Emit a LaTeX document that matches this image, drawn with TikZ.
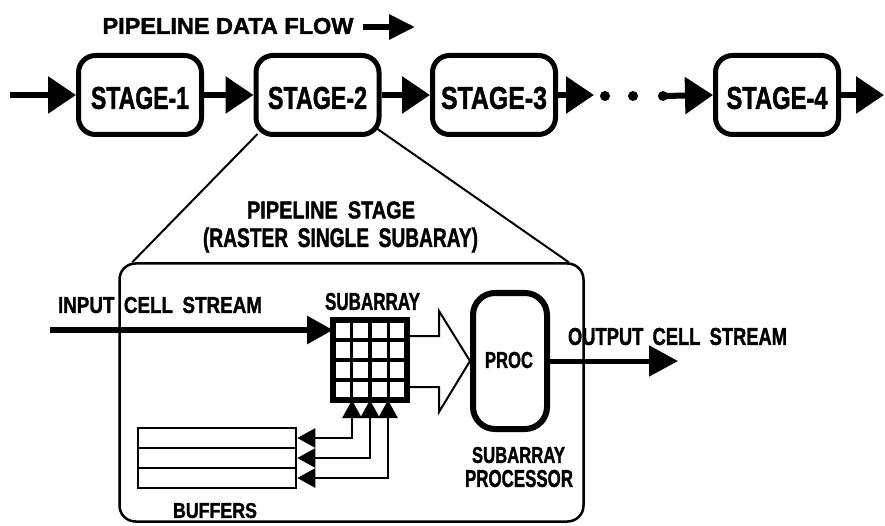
\documentclass[tikz,border=0pt]{standalone}
\usepackage{fontspec}
\setmainfont{Liberation Sans}[BoldFeatures={FakeBold=1.6}]
\usepackage{graphicx}
\usetikzlibrary{arrows.meta,calc}

% label set in bold caps, stretched to a given width and cap height
\newcommand\plotlbl[3]{\resizebox{#1pt}{#2pt}{\bfseries #3}}
\newcommand\plotlblt[3]{\resizebox*{#1pt}{#2pt}{\bfseries #3}}
% wide word gap of the lettering
\newcommand\wsp{\hspace{0.5em}}

\begin{document}
\begin{tikzpicture}[x=1pt,y=-1pt,
  lbl/.style={inner sep=0pt,outer sep=0pt},
  stagebox/.style={draw,line width=5pt,rounded corners=17pt,
    minimum width=123pt,minimum height=79pt,inner sep=0pt},
  flow/.style={line width=6pt,-{Triangle[length=28pt,width=36pt]}},
  dotnode/.style={circle,fill,minimum size=10pt,inner sep=0pt},
  thinline/.style={line width=2pt},
  bufbox/.style={draw,line width=2.5pt,minimum width=158pt,minimum height=20pt,inner sep=0pt},
  bufarrow/.style={line width=2.5pt,{Triangle[length=18pt,width=19pt]}-{Triangle[length=18pt,width=19pt]}},
]
\useasboundingbox (0,0) rectangle (885,526);

% ---- pipeline of stages ----
\node[lbl] (title) at (228,26) {\plotlbl{251}{16}{PIPELINE DATA FLOW}};
\coordinate (ta) at (363,27);
\coordinate (tb) at (415,27);
\draw[line width=6pt,-{Triangle[length=26pt,width=24pt]}] (ta) -- (tb);

\node[stagebox] (s1) at (140,95) {};
\node[stagebox] (s2) at (317.5,95) {};
\node[stagebox] (s3) at (494,95) {};
\node[stagebox] (s4) at (777,95) {};
\node[lbl] (s1t) at ([yshift=-3pt]s1.center) {\plotlbl{98}{22}{STAGE-1}};
\node[lbl] (s2t) at ([yshift=-3pt]s2.center) {\plotlbl{99}{22}{STAGE-2}};
\node[lbl] (s3t) at ([yshift=-3pt]s3.center) {\plotlbl{106}{22}{STAGE-3}};
\node[lbl] (s4t) at ([yshift=-3pt]s4.center) {\plotlbl{101}{22}{STAGE-4}};

\coordinate (pin) at (10,95);
\coordinate (d0) at (594,95);
\coordinate (pout) at (884,95);
\node[dotnode] (d1) at (605,96) {};
\node[dotnode] (d2) at (633,96) {};
\node[dotnode] (d3) at (663,96) {};

\draw[flow] (pin) -- (s1.west);
\draw[flow] (s1.east) -- (s2.west);
\draw[flow] (s2.east) -- (s3.west);
\draw[flow] (s3.east) -- (d0);
\draw[flow] (d3.center) -- (s4.west);
\draw[flow] (s4.east) -- (pout);

% ---- expanded pipeline stage ----
\node[draw,line width=2.5pt,rounded corners=16pt,minimum width=464pt,
  minimum height=258pt,inner sep=0pt] (stage) at (351.5,392.5) {};
\draw[thinline] ([shift={(4,-3)}]s2.south west) -- ([xshift=14pt]stage.north west);
\draw[thinline] ([shift={(-4,-8)}]s2.south east) -- ([xshift=-16pt]stage.north east);

\node[lbl] (stt1) at (331,210) {\plotlbl{168}{17}{PIPELINE\wsp STAGE}};
\node[lbl] (stt2) at (340.5,240) {\plotlblt{275}{25}{(RASTER\wsp SINGLE\wsp SUBARAY)}};

% subarray grid
\node[draw,line width=6pt,minimum width=74pt,minimum height=80pt,
  inner sep=0pt,outer sep=0pt] (grid) at (370,360) {};
\foreach \i in {1,2,3}{
  \draw[line width=3.5pt] ($(grid.north west)!\i/4!(grid.north east)$) --
    ($(grid.south west)!\i/4!(grid.south east)$);
  \draw[line width=3.5pt] ($(grid.north west)!\i/4!(grid.south west)$) --
    ($(grid.north east)!\i/4!(grid.south east)$);
}
\node[lbl] (gridt) at (372.5,301.5) {\plotlbl{95}{17}{SUBARRAY}};

\node[lbl] (inl) at (160,305) {\plotlbl{204}{16}{INPUT\wsp CELL\wsp STREAM}};
\coordinate (cin) at (50,330);
\draw[line width=6pt,-{Triangle[length=26pt,width=27pt]}] (cin) -- (cin -| grid.west);

% subarray processor
\node[draw,line width=6pt,rounded corners=22pt,minimum width=74pt,
  minimum height=136pt,inner sep=0pt] (proc) at (510,361) {};
\node[lbl] (proct) at (509,360) {\plotlbl{48}{16}{PROC}};
\node[lbl] (pl1) at (518.5,455) {\plotlbl{93}{16}{SUBARRAY}};
\node[lbl] (pl2) at (519,478.5) {\plotlbl{108}{17}{PROCESSOR}};

% broad transfer arrow from subarray to processor
\coordinate (tip) at (proc.west);
\draw[thinline,line join=miter]
  ($(grid.east|-tip)+(0,-25)$) -- ($(tip)+(-31,-25)$) -- ($(tip)+(-31,-50)$) --
  (tip) -- ($(tip)+(-31,51)$) -- ($(tip)+(-31,26)$) -- ($(grid.east|-tip)+(0,26)$);

% output stream
\coordinate (cout) at (678,361);
\draw[line width=5pt,-{Triangle[length=29pt,width=30pt]}] (proc.east) -- (cout);
\node[lbl] (outl) at (677.5,336.5) {\plotlbl{219}{17}{OUTPUT\wsp CELL\wsp STREAM}};

% buffers
\node[bufbox] (b1) at (217,438) {};
\node[bufbox] (b2) at (217,458) {};
\node[bufbox] (b3) at (217,478) {};
\node[lbl] (bufl) at (215,510.5) {\plotlbl{84}{15}{BUFFERS}};
\coordinate (g1) at ([xshift=-18pt]grid.south);
\coordinate (g2) at (grid.south);
\coordinate (g3) at ([xshift=18pt]grid.south);
\draw[bufarrow] (b1.east) -| (g1);
\draw[bufarrow] (b2.east) -| (g2);
\draw[bufarrow] (b3.east) -| (g3);
\end{tikzpicture}
\end{document}
